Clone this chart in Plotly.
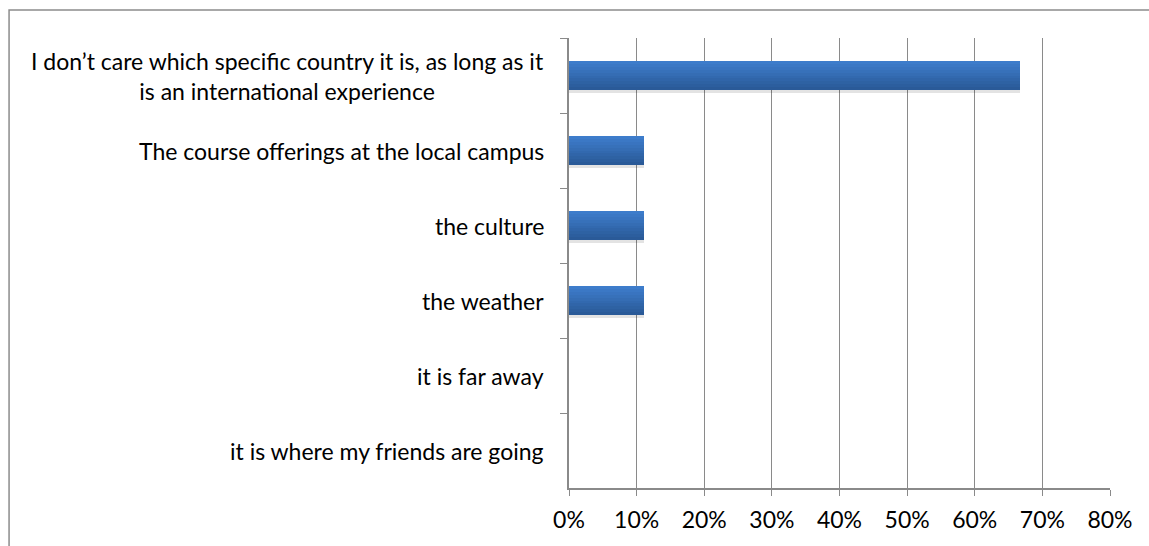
import plotly.graph_objects as go

# Survey answers (top to bottom) and share of respondents
categories = [
    "I don’t care which specific country it is, as long as it<br>is an international experience",
    "The course offerings at the local campus",
    "the culture",
    "the weather",
    "it is far away",
    "it is where my friends are going",
]
shares = [0.667, 0.111, 0.111, 0.111, 0.0, 0.0]

x_ticks = [0, 0.1, 0.2, 0.3, 0.4, 0.5, 0.6, 0.7, 0.8]

FONT = "Lato"
FONT_SIZE = 23
GRID = "#8a8a8a"

fig = go.Figure()

BAR_W = 0.39
# soft drop shadow under each bar
fig.add_trace(go.Bar(
    y=categories, x=shares, orientation="h",
    width=BAR_W, offset=-BAR_W / 2 + 0.035,
    marker=dict(color="rgba(0,0,0,0.11)", line=dict(width=0)),
    hoverinfo="skip", showlegend=False,
))

# vertical gradient: light blue at the top edge to dark blue at the bottom
top = (0x3D, 0x7C, 0xCB)
bot = (0x2A, 0x5A, 0x98)
n = 10
for i in range(n):
    t = i / (n - 1)
    c = tuple(round(a + (b - a) * t) for a, b in zip(top, bot))
    w = BAR_W / n
    fig.add_trace(go.Bar(
        y=categories, x=shares, orientation="h",
        width=w * 1.05, offset=-BAR_W / 2 + i * w,
        marker=dict(color="rgb(%d,%d,%d)" % c, line=dict(width=0)),
        hoverinfo="skip", showlegend=False,
    ))

# category labels, right-aligned against the axis, multi-line ones centred
for cat in categories:
    fig.add_annotation(
        x=0, xref="paper", y=cat, yref="y",
        text=cat, showarrow=False,
        xanchor="right", align="center", xshift=-23,
        font=dict(family=FONT, size=FONT_SIZE, color="#000000"),
    )

# outer chart frame
fig.add_shape(
    type="rect", xref="paper", yref="paper",
    x0=-1.035, x1=1.08, y0=-0.14, y1=1.062,
    line=dict(color="#8c8c8c", width=1.5), fillcolor="rgba(0,0,0,0)",
    layer="below",
)

fig.update_layout(
    width=1149, height=546,
    margin=dict(l=569, r=39, t=38, b=58),
    paper_bgcolor="white", plot_bgcolor="white",
    barmode="overlay", bargap=0,
    font=dict(family=FONT, size=FONT_SIZE, color="#000000"),
    showlegend=False,
)

fig.update_xaxes(
    range=[0, 0.8], tickvals=x_ticks, tickformat=".0%",
    showgrid=True, gridcolor=GRID, gridwidth=1.3,
    showline=True, linecolor=GRID, linewidth=1.5,
    ticks="outside", ticklen=6, tickcolor=GRID, tickwidth=1.3,
    ticklabelstandoff=5,
    zeroline=False, fixedrange=True,
    tickfont=dict(family=FONT, size=FONT_SIZE, color="#000000"),
)

fig.update_yaxes(
    categoryorder="array", categoryarray=categories,
    autorange="reversed",
    showticklabels=False,
    showline=True, linecolor=GRID, linewidth=1.5,
    ticks="outside", tickson="boundaries", ticklen=7,
    tickcolor=GRID, tickwidth=1.3,
    showgrid=False, zeroline=False, fixedrange=True,
)

fig.write_html("out.html")
